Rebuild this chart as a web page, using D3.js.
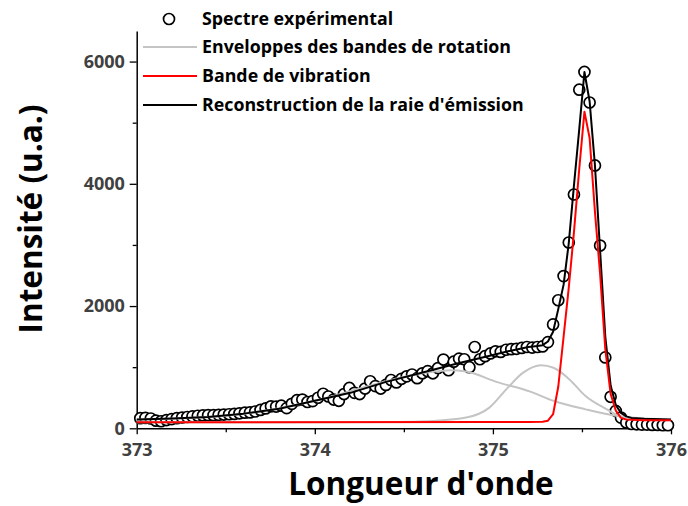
<!DOCTYPE html>
<html>
<head>
<meta charset="utf-8">
<script src="https://cdn.jsdelivr.net/npm/d3@7"></script>
<style>
  html, body { margin: 0; padding: 0; background: #fff; }
  svg { display: block; }
  text { font-family: "Open Sans", "Noto Sans", sans-serif; font-weight: 700; }
</style>
</head>
<body>
<svg id="chart" width="688" height="506"></svg>
<script>
// Measured emission line: wavelength (nm) and intensity (a.u.)
const wavelengths = [
  373.020, 373.049, 373.079, 373.108, 373.137, 373.167, 373.196, 373.225, 373.255, 373.284,
  373.313, 373.343, 373.372, 373.401, 373.431, 373.460, 373.489, 373.519, 373.548, 373.577,
  373.607, 373.636, 373.665, 373.695, 373.724, 373.754, 373.783, 373.812, 373.842, 373.871,
  373.900, 373.930, 373.959, 373.988, 374.018, 374.047, 374.076, 374.106, 374.135, 374.164,
  374.194, 374.223, 374.252, 374.282, 374.311, 374.340, 374.370, 374.399, 374.428, 374.458,
  374.487, 374.516, 374.546, 374.575, 374.604, 374.634, 374.663, 374.692, 374.722, 374.751,
  374.780, 374.810, 374.839, 374.868, 374.898, 374.927, 374.956, 374.986, 375.015, 375.044,
  375.074, 375.103, 375.132, 375.162, 375.191, 375.221, 375.250, 375.279, 375.309, 375.338,
  375.367, 375.397, 375.426, 375.455, 375.485, 375.514, 375.543, 375.573, 375.602, 375.631,
  375.661, 375.690, 375.719, 375.749, 375.778, 375.807, 375.837, 375.866, 375.895, 375.925,
  375.954, 375.983
];
const intensities = [
  165, 170, 160, 125, 115, 135, 150, 165, 175, 185,
  195, 205, 210, 215, 215, 220, 225, 230, 235, 245,
  255, 260, 275, 300, 325, 360, 355, 370, 330, 400,
  460, 470, 430, 445, 500, 565, 520, 470, 450, 560,
  660, 580, 560, 650, 770, 690, 650, 710, 790, 750,
  810, 850, 880, 820, 900, 935, 900, 985, 1125, 950,
  1090, 1140, 1130, 1000, 1330, 1130, 1180, 1225, 1260, 1250,
  1285, 1295, 1300, 1315, 1330, 1320, 1330, 1340, 1410, 1700,
  2095, 2490, 3040, 3825, 5540, 5830, 5330, 4300, 2990, 1160,
  515, 285, 175, 95, 70, 65, 60, 60, 55, 55,
  50, 50
];

// Rotational band envelopes (two components), [wavelength, intensity]
const envelopeWide = [
  [373.00, 140], [373.50, 205], [374.00, 450], [374.30, 690], [374.50, 840],
  [374.65, 920], [374.76, 950], [374.85, 930], [375.02, 760], [375.21, 600],
  [375.34, 450], [375.52, 310], [375.69, 205], [375.85, 160], [376.00, 140]
];
const envelopeNarrow = [
  [373.00, 100], [374.40, 102], [374.55, 108], [374.66, 120], [374.85, 175],
  [374.98, 338], [375.075, 637], [375.17, 910], [375.27, 1030], [375.34, 990],
  [375.43, 800], [375.52, 528], [375.64, 310], [375.69, 229], [375.82, 150],
  [376.00, 130]
];

// Vibrational band
const vibrationBand = [
  [373.00, 100], [375.00, 102], [375.20, 105], [375.279, 108], [375.309, 125],
  [375.338, 230], [375.367, 680], [375.397, 1500], [375.426, 2300], [375.455, 3205],
  [375.485, 4250], [375.514, 5180], [375.543, 4750], [375.573, 3540], [375.602, 2520],
  [375.631, 1300], [375.661, 560], [375.690, 290], [375.719, 170], [375.749, 145],
  [375.85, 132], [376.00, 130]
];

// Reconstructed emission line
const reconstruction = [
  [373.00, 145], [373.20, 160], [373.40, 185], [373.60, 240], [373.80, 320],
  [374.00, 450], [374.20, 580], [374.40, 760], [374.60, 910], [374.80, 1060],
  [375.00, 1200], [375.10, 1270], [375.20, 1330], [375.25, 1345], [375.279, 1360],
  [375.309, 1420], [375.338, 1580], [375.367, 1950], [375.397, 2350], [375.426, 3030],
  [375.455, 3970], [375.485, 4900], [375.514, 5830], [375.543, 5350], [375.573, 4300],
  [375.602, 2900], [375.631, 1500], [375.661, 700], [375.690, 380], [375.719, 250],
  [375.749, 195], [375.778, 170], [375.85, 155], [375.95, 147], [376.00, 145]
];

const xTicks = [373, 374, 375, 376];
const xMinorTicks = [373.5, 374.5, 375.5];
const yTicks = [0, 2000, 4000, 6000];
const yMinorTicks = [1000, 3000, 5000];

const legendItems = [
  { label: "Spectre expérimental", kind: "circle" },
  { label: "Enveloppes des bandes de rotation", kind: "line", color: "#c4c4c4" },
  { label: "Bande de vibration", kind: "line", color: "#ff0000" },
  { label: "Reconstruction de la raie d'émission", kind: "line", color: "#000000" }
];

const svg = d3.select("#chart");

const x = d3.scaleLinear().domain([373, 376]).range([136.7, 671]);
const y = d3.scaleLinear().domain([0, 6500]).range([428.3, 31]);

const tickColor = "#404040";

// Axes
const xAxis = svg.append("g").attr("transform", `translate(0,${y.range()[0]})`);
xAxis.call(d3.axisBottom(x).tickValues(xTicks).tickFormat(d3.format("d")).tickSize(6).tickSizeOuter(0));
const xMinor = svg.append("g").attr("transform", `translate(0,${y.range()[0]})`);
xMinor.call(d3.axisBottom(x).tickValues(xMinorTicks).tickFormat("").tickSize(4).tickSizeOuter(0));
xMinor.select(".domain").remove();

const yAxis = svg.append("g").attr("transform", `translate(${x.range()[0]},0)`);
yAxis.call(d3.axisLeft(y).tickValues(yTicks).tickFormat(d3.format("d")).tickSize(7).tickSizeOuter(0));
const yMinor = svg.append("g").attr("transform", `translate(${x.range()[0]},0)`);
yMinor.call(d3.axisLeft(y).tickValues(yMinorTicks).tickFormat("").tickSize(4).tickSizeOuter(0));
yMinor.select(".domain").remove();

svg.selectAll(".domain").attr("stroke", "#000").attr("stroke-width", 1.5);
svg.selectAll(".tick line").attr("stroke", "#000").attr("stroke-width", 1.3);
svg.selectAll(".tick text")
  .attr("fill", tickColor)
  .style("font-size", "18px")
  .style("font-weight", "700")
  .style("font-family", "'Open Sans', sans-serif");
xAxis.selectAll(".tick text").attr("dy", "1.05em");
yAxis.selectAll(".tick text").attr("dx", "-0.1em");

// Axis titles
svg.append("text")
  .attr("x", 421)
  .attr("y", 495)
  .attr("text-anchor", "middle")
  .style("font-size", "31.5px")
  .attr("fill", "#000")
  .text("Longueur d'onde");

svg.append("text")
  .attr("transform", "translate(42,219) rotate(-90)")
  .attr("text-anchor", "middle")
  .style("font-size", "31.5px")
  .attr("fill", "#000")
  .text("Intensité (u.a.)");

// Experimental points (drawn first, white-filled so they overlap)
const points = wavelengths.map((w, i) => [w, intensities[i]]);
svg.append("g")
  .selectAll("circle")
  .data(points)
  .join("circle")
  .attr("cx", d => x(d[0]))
  .attr("cy", d => y(d[1]))
  .attr("r", 5.5)
  .attr("fill", "#fff")
  .attr("stroke", "#000")
  .attr("stroke-width", 1.7);

const line = d3.line().x(d => x(d[0])).y(d => y(d[1])).curve(d3.curveLinear);
const smooth = d3.line().x(d => x(d[0])).y(d => y(d[1])).curve(d3.curveMonotoneX);

svg.append("path").datum(envelopeWide).attr("d", smooth)
  .attr("fill", "none").attr("stroke", "#c4c4c4").attr("stroke-width", 2);
svg.append("path").datum(envelopeNarrow).attr("d", smooth)
  .attr("fill", "none").attr("stroke", "#c4c4c4").attr("stroke-width", 2);
svg.append("path").datum(reconstruction).attr("d", line)
  .attr("fill", "none").attr("stroke", "#000").attr("stroke-width", 2).attr("stroke-linejoin", "round");
svg.append("path").datum(vibrationBand).attr("d", line)
  .attr("fill", "none").attr("stroke", "#ff0000").attr("stroke-width", 2).attr("stroke-linejoin", "round");

// Legend
const legend = svg.append("g");
const rowY = [19, 47, 76, 105];
legendItems.forEach((item, i) => {
  const g = legend.append("g").attr("transform", `translate(0,${rowY[i]})`);
  if (item.kind === "circle") {
    g.append("circle").attr("cx", 169).attr("cy", 0).attr("r", 5.5)
      .attr("fill", "#fff").attr("stroke", "#000").attr("stroke-width", 1.7);
  } else {
    g.append("line").attr("x1", 143).attr("x2", 197).attr("y1", 0).attr("y2", 0)
      .attr("stroke", item.color).attr("stroke-width", 2);
  }
  g.append("text").attr("x", 202).attr("y", 0).attr("dy", "0.35em")
    .style("font-size", "17.8px").attr("fill", "#000").text(item.label);
});
</script>
</body>
</html>
